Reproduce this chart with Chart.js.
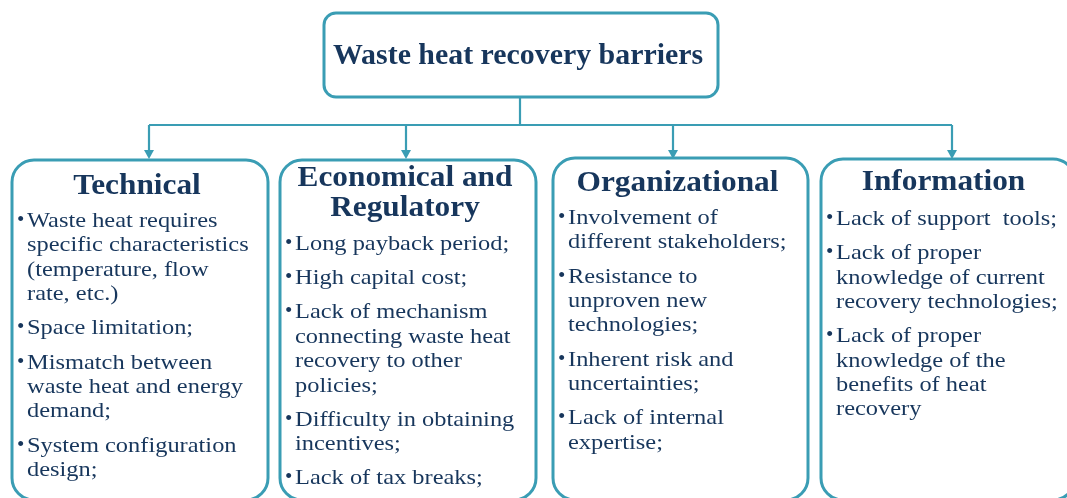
<!DOCTYPE html>
<html>
<head>
<meta charset="utf-8">
<script src="https://cdn.jsdelivr.net/npm/chart.js@4.4.1/dist/chart.umd.min.js"></script>
<style>
  html, body { margin: 0; padding: 0; background: #ffffff; overflow: hidden; }
  #c { display: block; }
</style>
</head>
<body>
<canvas id="c" width="1067" height="498"></canvas>
<script>
// ---- Data (text content of the diagram) ----
const title = "Waste heat recovery barriers";
const categories = [["Technical"], ["Economical and", "Regulatory"], ["Organizational"], ["Information"]];
const technicalItems = [
  ["Waste heat requires", "specific characteristics", "(temperature, flow", "rate, etc.)"],
  ["Space limitation;"],
  ["Mismatch between", "waste heat and energy", "demand;"],
  ["System configuration", "design;"]
];
const economicItems = [
  ["Long payback period;"],
  ["High capital cost;"],
  ["Lack of mechanism", "connecting waste heat", "recovery to other", "policies;"],
  ["Difficulty in obtaining", "incentives;"],
  ["Lack of tax breaks;"]
];
const organizationalItems = [
  ["Involvement of", "different stakeholders;"],
  ["Resistance to", "unproven new", "technologies;"],
  ["Inherent risk and", "uncertainties;"],
  ["Lack of internal", "expertise;"]
];
const informationItems = [
  ["Lack of support  tools;"],
  ["Lack of proper", "knowledge of current", "recovery technologies;"],
  ["Lack of proper", "knowledge of the", "benefits of heat", "recovery"]
];
const itemLists = [technicalItems, economicItems, organizationalItems, informationItems];

// ---- Layout & style (kept separate from data) ----
const BORDER = "#3a9db4";
const TEXT = "#17365c";
const FONT_FAMILY = "'Liberation Serif', 'DejaVu Serif', serif";
const topBox = { x0: 324, x1: 718, y0: 13, y1: 97, r: 12 };
const busY = 125;
const arrowTipY = 159;
const boxLayout = [
  { x0: 12,  x1: 268,  y0: 160, hdr: [194],      first: 227 },
  { x0: 280, x1: 536,  y0: 160, hdr: [186, 216], first: 250 },
  { x0: 553, x1: 808,  y0: 158, hdr: [191],      first: 224 },
  { x0: 821, x1: 1075, y0: 159, hdr: [190],      first: 225 }
];
const arrowXs = [149, 406, 673, 952];
const boxBottom = 500;
const lineH = 24.4;
const itemGap = 9.8;
const BODY_STRETCH = 1.11;
const HDR_STRETCH = 1.08;
const TITLE_STRETCH = 1.03;

function roundRect(ctx, x0, y0, x1, y1, r) {
  ctx.beginPath();
  ctx.moveTo(x0 + r, y0);
  ctx.lineTo(x1 - r, y0);
  ctx.arcTo(x1, y0, x1, y0 + r, r);
  ctx.lineTo(x1, y1 - r);
  ctx.arcTo(x1, y1, x1 - r, y1, r);
  ctx.lineTo(x0 + r, y1);
  ctx.arcTo(x0, y1, x0, y1 - r, r);
  ctx.lineTo(x0, y0 + r);
  ctx.arcTo(x0, y0, x0 + r, y0, r);
  ctx.closePath();
}

function stretchedText(ctx, text, x, y, k) {
  ctx.save();
  ctx.translate(x, y);
  ctx.scale(k, 1);
  ctx.fillText(text, 0, 0);
  ctx.restore();
}

const diagramPlugin = {
  id: 'diagram',
  afterDraw(chart) {
    const ctx = chart.ctx;
    const sx = v => chart.scales.x.getPixelForValue(v);
    const sy = v => chart.scales.y.getPixelForValue(v);
    ctx.save();

    // top box
    ctx.strokeStyle = BORDER;
    ctx.lineWidth = 3;
    roundRect(ctx, sx(topBox.x0), sy(topBox.y0), sx(topBox.x1), sy(topBox.y1), topBox.r);
    ctx.stroke();

    ctx.fillStyle = TEXT;
    ctx.textAlign = 'center';
    ctx.textBaseline = 'alphabetic';
    ctx.font = "bold 29px " + FONT_FAMILY;
    stretchedText(ctx, title, sx((topBox.x0 + topBox.x1) / 2 - 3), sy(64), TITLE_STRETCH);

    // connectors
    ctx.lineWidth = 2.2;
    ctx.beginPath();
    const midX = (topBox.x0 + topBox.x1) / 2 - 1;
    ctx.moveTo(sx(midX), sy(topBox.y1));
    ctx.lineTo(sx(midX), sy(busY));
    ctx.moveTo(sx(arrowXs[0]), sy(busY));
    ctx.lineTo(sx(arrowXs[arrowXs.length - 1]), sy(busY));
    arrowXs.forEach(ax => {
      ctx.moveTo(sx(ax), sy(busY));
      ctx.lineTo(sx(ax), sy(arrowTipY - 7));
    });
    ctx.stroke();
    ctx.fillStyle = BORDER;
    arrowXs.forEach(ax => {
      ctx.beginPath();
      ctx.moveTo(sx(ax - 5), sy(arrowTipY - 9));
      ctx.lineTo(sx(ax + 5), sy(arrowTipY - 9));
      ctx.lineTo(sx(ax), sy(arrowTipY));
      ctx.closePath();
      ctx.fill();
    });

    // category boxes
    categories.forEach((cat, i) => {
      const b = boxLayout[i];
      ctx.strokeStyle = BORDER;
      ctx.lineWidth = 3;
      roundRect(ctx, sx(b.x0), sy(b.y0), sx(b.x1), sy(boxBottom), 22);
      ctx.stroke();

      ctx.fillStyle = TEXT;
      ctx.textAlign = 'center';
      ctx.font = "bold 29px " + FONT_FAMILY;
      const cx = (b.x0 + Math.min(b.x1, 1072)) / 2 - 3;
      cat.forEach((line, k) => stretchedText(ctx, line, sx(cx), sy(b.hdr[k]), HDR_STRETCH));

      ctx.textAlign = 'left';
      let y = b.first;
      itemLists[i].forEach(item => {
        ctx.font = "21px " + FONT_FAMILY;
        ctx.fillText("\u2022", sx(b.x0 + 5), sy(y - 1));
        item.forEach((line, k) => {
          ctx.font = "22px " + FONT_FAMILY;
          stretchedText(ctx, line, sx(b.x0 + 15), sy(y), BODY_STRETCH);
          y += lineH;
        });
        y += itemGap;
      });
    });
    ctx.restore();
  }
};

new Chart(document.getElementById('c'), {
  type: 'scatter',
  data: { datasets: [{ data: [], showLine: false }] },
  options: {
    responsive: false,
    animation: false,
    layout: { padding: 0 },
    plugins: { legend: { display: false }, tooltip: { enabled: false }, title: { display: false } },
    scales: {
      x: { type: 'linear', min: 0, max: 1067, display: false },
      y: { type: 'linear', min: 0, max: 498, reverse: true, display: false }
    }
  },
  plugins: [diagramPlugin]
});
</script>
</body>
</html>
